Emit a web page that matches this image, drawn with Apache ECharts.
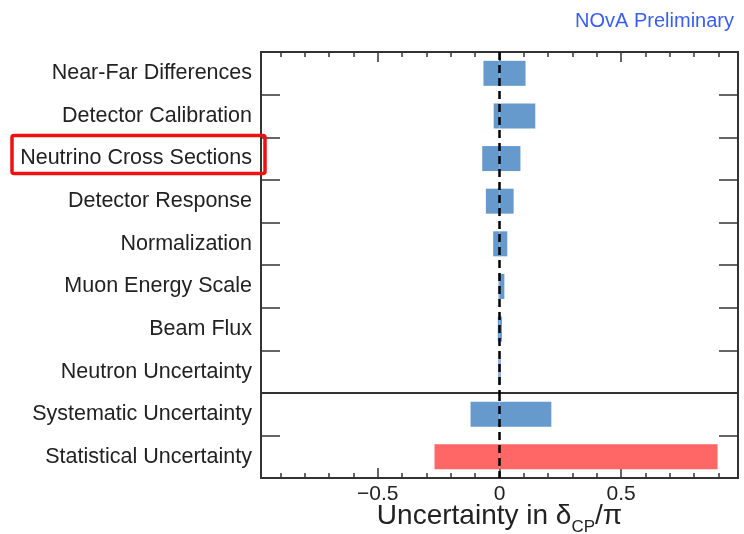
<!DOCTYPE html>
<html><head><meta charset="utf-8">
<script src="https://cdn.jsdelivr.net/npm/echarts@6/dist/echarts.min.js"></script>
<style>html,body{margin:0;padding:0;background:#fff}#c{width:744px;height:534px}</style>
</head><body><div id="c"></div><script>
const categoriesTop = ['Near-Far Differences','Detector Calibration','Neutrino Cross Sections','Detector Response','Normalization','Muon Energy Scale','Beam Flux','Neutron Uncertainty'];
const lowTop  = [-0.066, -0.024, -0.071, -0.056, -0.026, -0.004, -0.007, -0.005];
const highTop = [ 0.107,  0.147,  0.086,  0.058,  0.032,  0.020,  0.010,  0.005];
const categoriesBottom = ['Systematic Uncertainty','Statistical Uncertainty'];
const lowBottom  = [-0.119, -0.267];
const highBottom = [ 0.213,  0.896];
const bottomColors = ['#6699cc', '#ff6666'];
const majorTicks = [-0.5, 0, 0.5];
const minorTicks = [-0.9,-0.8,-0.7,-0.6,-0.4,-0.3,-0.2,-0.1,0.1,0.2,0.3,0.4,0.6,0.7,0.8,0.9];
const xMin = -0.98, xMax = 0.98;
const highlighted = 'Neutrino Cross Sections';

const FONT = "'Liberation Sans', Arial, Helvetica, sans-serif";
const LINE = '#333';
const BLUE = '#6699cc';

function xAxisDef(grid, pos, major, withLabels) {
  return {
    type: 'value', gridIndex: grid, position: pos, min: xMin, max: xMax,
    splitLine: {show: false},
    axisLine: {show: major, onZero: false, lineStyle: {color: LINE, width: 2}},
    axisTick: {show: true, inside: true, length: major ? 10 : 5,
      customValues: major ? majorTicks : minorTicks,
      lineStyle: {color: LINE, width: 1.5}},
    axisLabel: withLabels ? {
      show: true, customValues: majorTicks, margin: 6,
      fontFamily: FONT, fontSize: 21, color: '#222',
      formatter: v => (v < 0 ? '\u2212' : '') + Math.abs(v)
    } : {show: false},
    name: withLabels ? '{a|Uncertainty in \u03b4}{s|CP}{a|/\u03c0}' : '',
    nameLocation: 'middle', nameGap: 38, nameMoveOverlap: false,
    nameTextStyle: withLabels ? {
      verticalAlign: 'middle',
      rich: {
        a: {fontFamily: FONT, fontSize: 28, color: '#222', lineHeight: 30},
        s: {fontFamily: FONT, fontSize: 17, color: '#222', padding: [22, 0, 0, 0], lineHeight: 30}
      }
    } : {}
  };
}
function yAxisDef(grid, cats, pos, labels) {
  return {
    type: 'category', gridIndex: grid, data: cats, inverse: true, position: pos,
    axisLine: {show: true, onZero: false, lineStyle: {color: LINE, width: 2}},
    axisTick: {show: true, inside: true, length: 19, lineStyle: {color: LINE, width: 1.5}},
    axisLabel: labels ? {show: true, fontFamily: FONT, fontSize: 21.5, color: '#222', margin: 9} : {show: false},
    splitLine: {show: false}
  };
}
const zeroLine = {
  silent: true, symbol: 'none', z: 10,
  label: {show: false},
  lineStyle: {color: '#000', type: [8, 5], width: 2.5},
  data: [{xAxis: 0}]
};

const chart = echarts.init(document.getElementById('c'), null, {renderer: 'canvas'});
chart.setOption({
  animation: false,
  backgroundColor: '#fff',
  title: {text: 'NOvA Preliminary', right: 5, top: 6,
    textStyle: {fontFamily: FONT, fontSize: 20, fontWeight: 'normal', color: '#3a5ef0'}},
  grid: [
    {left: 261, right: 6, top: 52, height: 341, outerBoundsMode: 'none', containLabel: false,
      show: true, borderColor: LINE, borderWidth: 2},
    {left: 261, right: 6, top: 393, height: 85, outerBoundsMode: 'none', containLabel: false,
      show: true, borderColor: LINE, borderWidth: 2}
  ],
  xAxis: [
    xAxisDef(0, 'top', true, false),
    xAxisDef(0, 'top', false, false),
    xAxisDef(1, 'bottom', true, true),
    xAxisDef(1, 'bottom', false, false)
  ],
  yAxis: [
    yAxisDef(0, categoriesTop, 'left', true),
    yAxisDef(0, categoriesTop, 'right', false),
    yAxisDef(1, categoriesBottom, 'left', true),
    yAxisDef(1, categoriesBottom, 'right', false)
  ],
  series: [
    {type: 'bar', xAxisIndex: 0, yAxisIndex: 0, stack: 'top', data: lowTop, barWidth: 25,
      itemStyle: {color: BLUE}},
    {type: 'bar', xAxisIndex: 0, yAxisIndex: 0, stack: 'top', data: highTop, barWidth: 25,
      itemStyle: {color: BLUE}, markLine: zeroLine},
    {type: 'bar', xAxisIndex: 2, yAxisIndex: 2, stack: 'bot', data: lowBottom, barWidth: 25,
      itemStyle: {color: p => bottomColors[p.dataIndex]}},
    {type: 'bar', xAxisIndex: 2, yAxisIndex: 2, stack: 'bot', data: highBottom, barWidth: 25,
      itemStyle: {color: p => bottomColors[p.dataIndex]}, markLine: zeroLine}
  ]
});
const cy = chart.convertToPixel({yAxisIndex: 0}, highlighted);
chart.setOption({
  graphic: [{type: 'rect', z: 100, shape: {x: 12, y: cy - 23, width: 253, height: 38, r: 2},
    style: {fill: 'none', stroke: '#ee1111', lineWidth: 3.5}}]
});
</script></body></html>
